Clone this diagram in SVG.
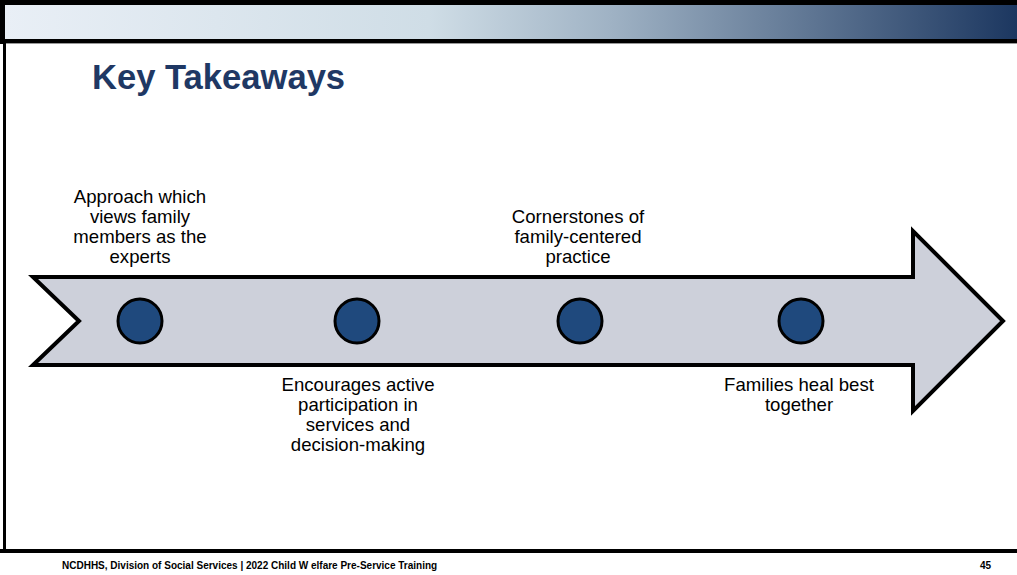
<svg xmlns="http://www.w3.org/2000/svg" width="1017" height="575" viewBox="0 0 1017 575">
<defs>
<linearGradient id="hdr" x1="0" y1="0" x2="1" y2="0">
<stop offset="0" stop-color="#e9eff6"/>
<stop offset="0.42" stop-color="#cfdde6"/>
<stop offset="0.6" stop-color="#9fb2c4"/>
<stop offset="1" stop-color="#1c3760"/>
</linearGradient>
<style>
.lbl{font-family:"Liberation Sans",Arial,sans-serif;font-size:18.6px;fill:#000;text-anchor:middle}
.dot{fill:#1f497d;stroke:#000;stroke-width:3}
.foot{font-family:"Liberation Sans",Arial,sans-serif;font-size:10px;font-weight:bold;fill:#000}
</style>
</defs>
<rect x="0" y="0" width="1017" height="575" fill="#fff"/>
<g id="frame">
<rect x="0" y="0" width="1017" height="5" fill="#000"/>
<rect x="4" y="5" width="1013" height="34" fill="url(#hdr)"/>
<rect x="0" y="0" width="5" height="44" fill="#000"/>
<rect x="4" y="39" width="1013" height="4" fill="#000"/>
<rect x="4" y="43" width="1013" height="1" fill="#999"/>
<rect x="3" y="43" width="3" height="510" fill="#000"/>
<rect x="0" y="549" width="1017" height="4" fill="#000"/>
</g>
<text x="92" y="89" font-family="'Liberation Sans',Arial,sans-serif" font-size="34.6" font-weight="bold" fill="#1f3864">Key Takeaways</text>
<g id="arrow">
<polygon points="33,277 913,277 913,231 1003,321 913,411 913,365 33,365 79,321" fill="#cdd0da" stroke="#000" stroke-width="4" stroke-linejoin="miter"/>
</g>
<g id="node1">
<circle class="dot" cx="140" cy="321" r="22"/>
<text class="lbl"><tspan x="140" y="203">Approach which</tspan><tspan x="140" y="223">views family</tspan><tspan x="140" y="243">members as the</tspan><tspan x="140" y="263">experts</tspan></text>
</g>
<g id="node2">
<circle class="dot" cx="357" cy="321" r="22"/>
<text class="lbl"><tspan x="358" y="391">Encourages active</tspan><tspan x="358" y="411">participation in</tspan><tspan x="358" y="431">services and</tspan><tspan x="358" y="451">decision-making</tspan></text>
</g>
<g id="node3">
<circle class="dot" cx="580" cy="321" r="22"/>
<text class="lbl"><tspan x="578" y="223">Cornerstones of</tspan><tspan x="578" y="243">family-centered</tspan><tspan x="578" y="263">practice</tspan></text>
</g>
<g id="node4">
<circle class="dot" cx="801" cy="321" r="22"/>
<text class="lbl"><tspan x="799" y="391">Families heal best</tspan><tspan x="799" y="411">together</tspan></text>
</g>
<g id="connectors"></g>
<text class="foot" x="62" y="569">NCDHHS, Division of Social Services | 2022 Child W elfare Pre-Service Training</text>
<text class="foot" x="980" y="569">45</text>
</svg>
